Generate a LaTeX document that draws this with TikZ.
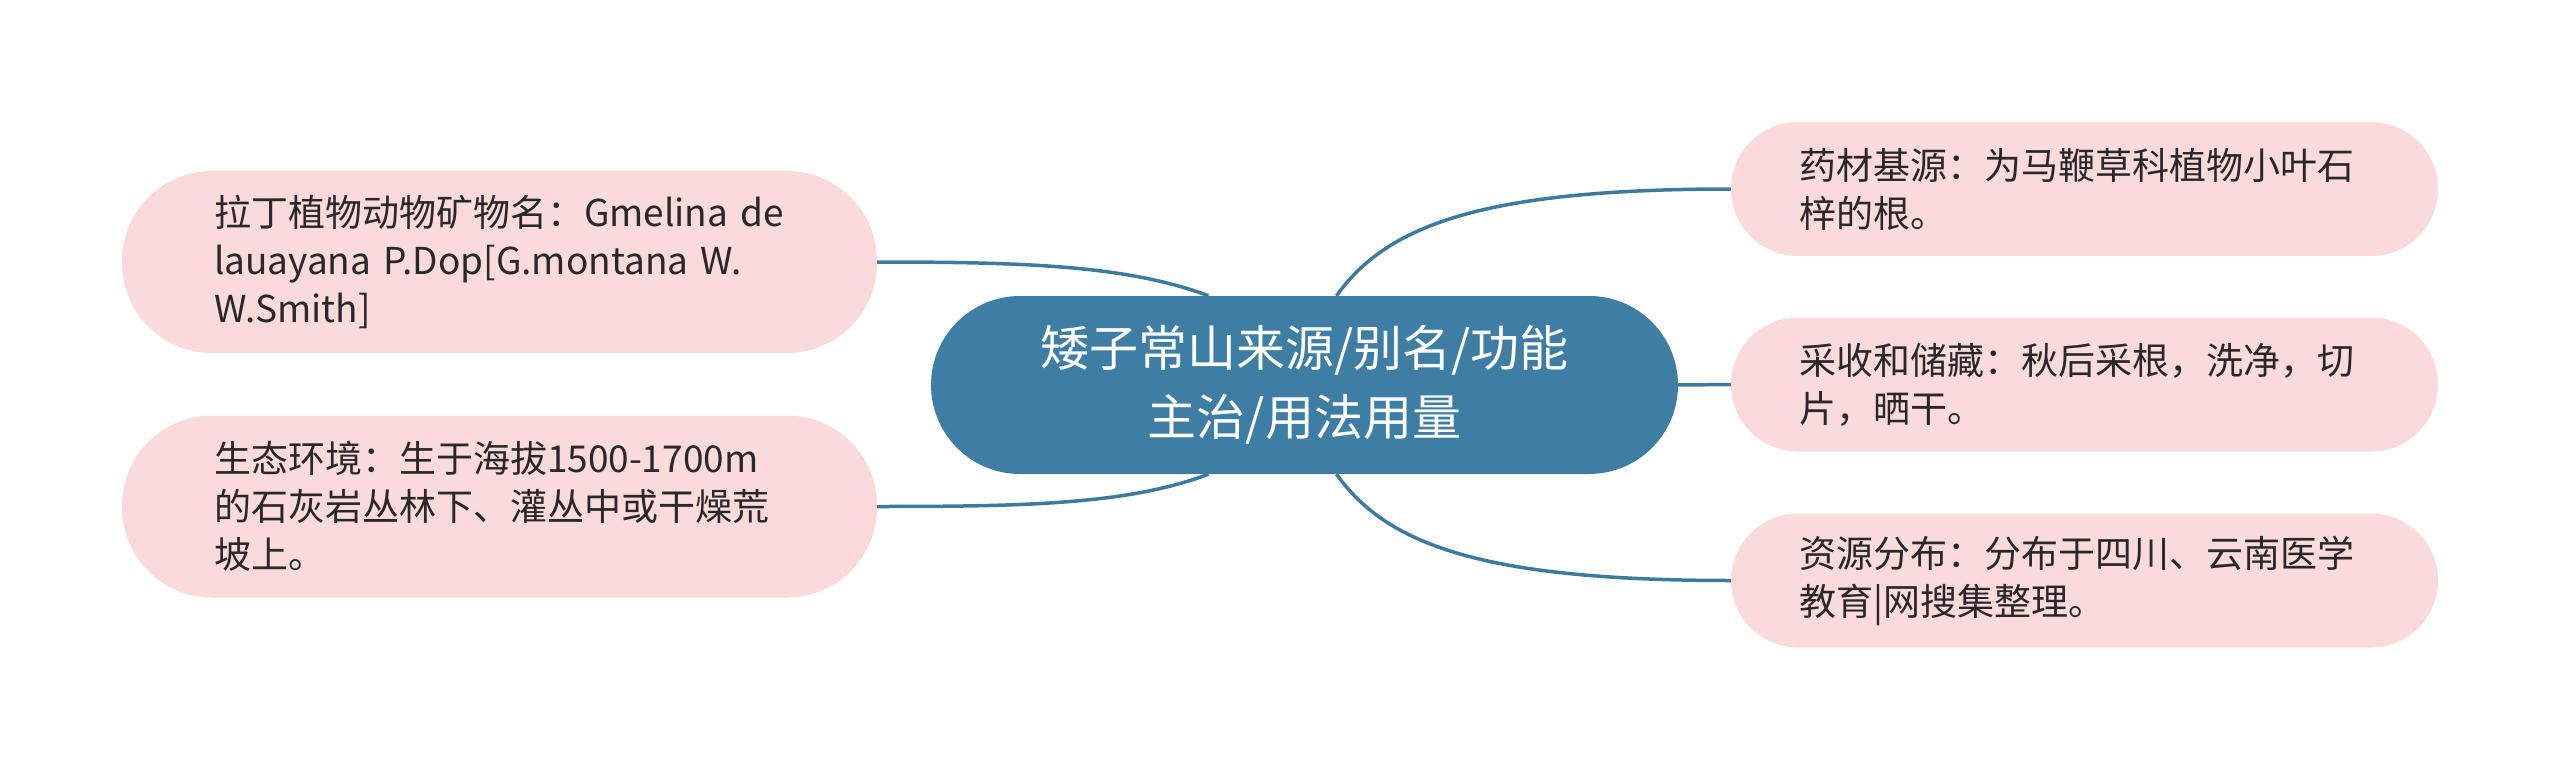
\documentclass[tikz,border=0pt]{standalone}
\usepackage{fontspec}
\newfontfamily\cjk{Noto Sans CJK SC}
\definecolor{mainblue}{RGB}{62,126,165}
\definecolor{linkblue}{RGB}{60,122,160}
\definecolor{leafpink}{RGB}{250,218,218}
\definecolor{leaftext}{RGB}{40,40,40}
\tikzset{
  centre/.style={fill=mainblue, text=white, rounded corners=89pt,
    minimum width=747pt, minimum height=178pt, inner sep=0pt,
    align=center, font=\cjk\fontsize{49}{69}\selectfont},
  leafL/.style={fill=leafpink, text=leaftext, rounded corners=90pt,
    minimum width=755pt, minimum height=182pt, inner xsep=92pt, inner ysep=0pt,
    text width=571pt, align=left, font=\cjk\fontsize{37}{48}\selectfont},
  leafR/.style={fill=leafpink, text=leaftext, rounded corners=67pt,
    minimum width=707pt, minimum height=134pt, inner xsep=68pt, inner ysep=0pt,
    text width=571pt, align=left, font=\cjk\fontsize{37}{48}\selectfont},
  link/.style={draw=linkblue, line width=3.5pt}
}
\begin{document}
\begin{tikzpicture}[x=1pt,y=-1pt]
\useasboundingbox (0,0) rectangle (2560,771);
\node[centre] (c) at (1304.5,385) {矮子常山来源/别名/功能\\主治/用法用量};
\node[leafL] (l1) at (499.5,262) {拉丁植物动物矿物名：Gmelina de\\lauayana P.Dop[G.montana W.\\W.Smith]};
\node[leafL] (l2) at (499.5,506.5) {生态环境：生于海拔1500-1700m\\的石灰岩丛林下、灌丛中或干燥荒\\坡上。};
\node[leafR] (r1) at (2084.5,189) {药材基源：为马鞭草科植物小叶石\\梓的根。};
\node[leafR] (r2) at (2084.5,384.5) {采收和储藏：秋后采根，洗净，切\\片，晒干。};
\node[leafR] (r3) at (2084.5,580.5) {资源分布：分布于四川、云南医学\\教育|网搜集整理。};
\coordinate (sl1) at ([xshift=-96pt]c.north);
\coordinate (sl2) at ([xshift=-96pt]c.south);
\coordinate (sr1) at ([xshift=32pt]c.north);
\coordinate (sr3) at ([xshift=32pt]c.south);
\draw[link] (sl1) .. controls +(-80,-30) and +(150,0) .. (l1.east);
\draw[link] (sl2) .. controls +(-80,30) and +(150,0) .. (l2.east);
\draw[link] (sr1) .. controls +(50,-70) and +(-250,0) .. (r1.west);
\draw[link] (c.east) -- (r2.west);
\draw[link] (sr3) .. controls +(50,70) and +(-250,0) .. (r3.west);
\end{tikzpicture}
\end{document}
